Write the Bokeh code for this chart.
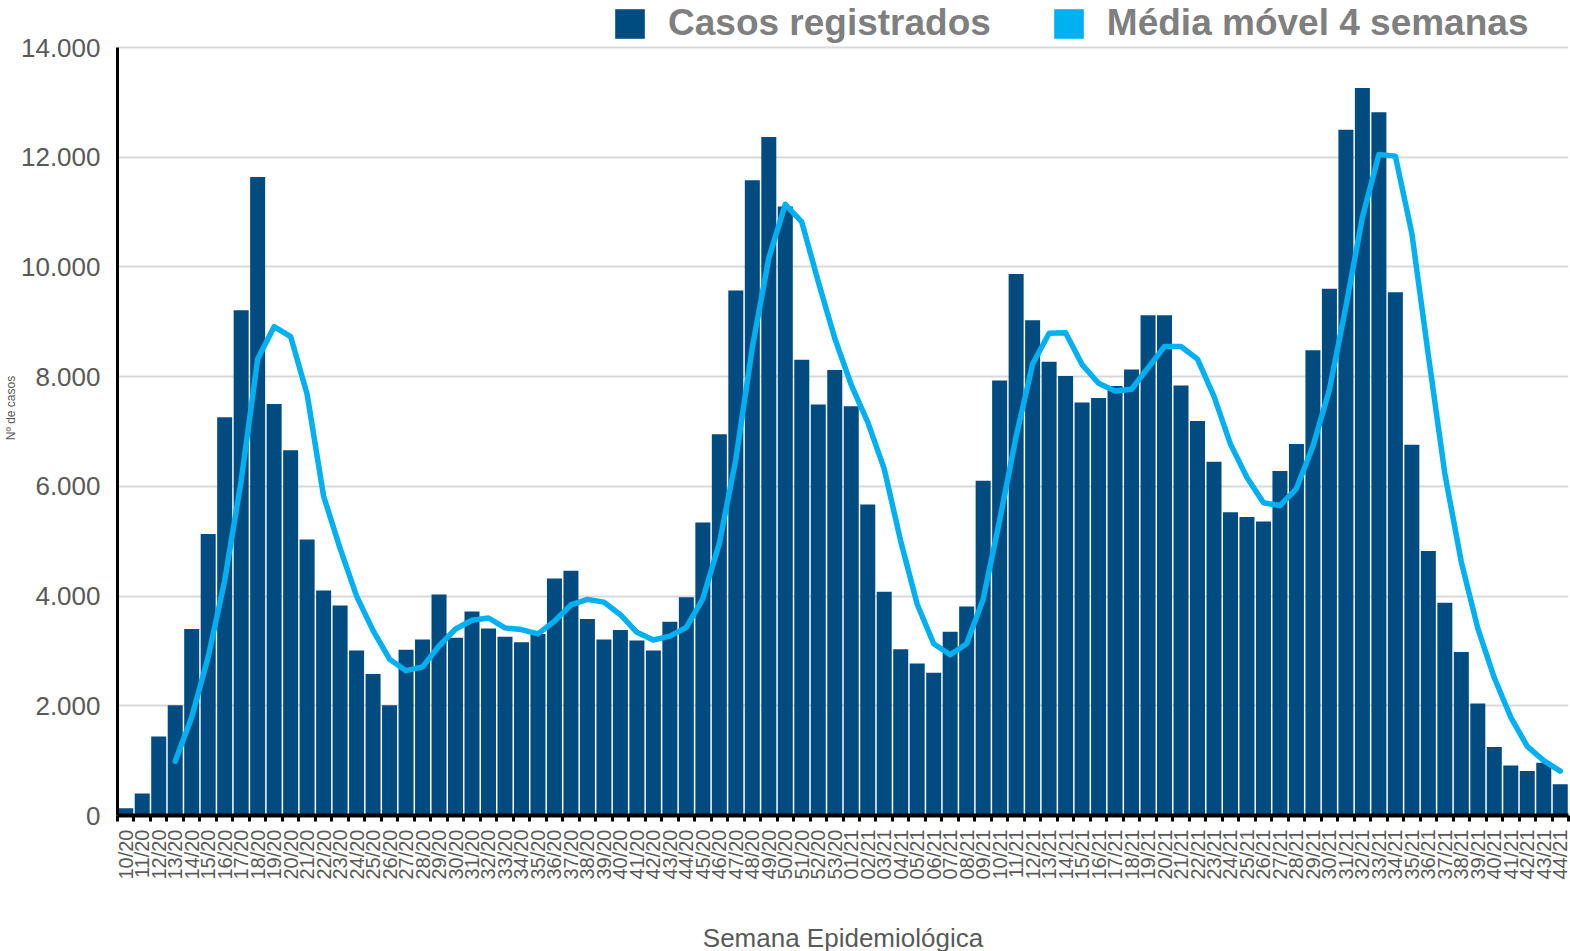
import numpy as np
from bokeh.plotting import figure
from bokeh.models import Range1d, FixedTicker, Legend, LegendItem
from bokeh.embed import file_html
from bokeh.resources import INLINE

weeks = [f"{w:02d}/20" for w in range(10, 54)] + [f"{w:02d}/21" for w in range(1, 45)]

cases = [
    130, 400, 1440, 2010, 3400, 5130, 7260, 9210, 11640, 7500,
    6660, 5030, 4100, 3830, 3010, 2580, 2010, 3020, 3210, 4030,
    3240, 3720, 3410, 3260, 3160, 3310, 4320, 4460, 3580, 3210,
    3380, 3190, 3010, 3530, 3980, 5340, 6950, 9570, 11580, 12370,
    11100, 8310, 7490, 8120,
    7460, 5670, 4080, 3030, 2770, 2600, 3350, 3810, 6100, 7930,
    9870, 9030, 8270, 8010, 7530, 7610, 7830, 8130, 9120, 9120,
    7840, 7190, 6450, 5530, 5440, 5360, 6280, 6770, 8480, 9600,
    12500, 13260, 12820, 9540, 6760, 4820, 3880, 2980, 2040, 1250,
    910, 810, 960, 570,
]

# 4-week moving average, starting at 13/20
moving_avg = [
    990, 1790, 2890, 4280, 6100, 8320, 8910, 8730, 7680, 5820,
    4870, 4000, 3370, 2850, 2640, 2710, 3090, 3400, 3560, 3600,
    3420, 3390, 3310, 3540, 3840, 3940, 3890, 3660, 3340, 3200,
    3270, 3430, 3950, 4960, 6490, 8530, 10160, 11140, 10820, 9730,
    8700,
    7850, 7170, 6320, 5000, 3850, 3130, 2930, 3130, 3940, 5380,
    6910, 8230, 8790, 8800, 8220, 7880, 7740, 7770, 8160, 8550,
    8550, 8320, 7640, 6770, 6160, 5700, 5650, 5960, 6730, 7760,
    9280, 10900, 12050, 12020, 10610, 8390, 6230, 4620, 3410, 2510,
    1790, 1260, 1000, 810,
]
ma_start = len(weeks) - len(moving_avg)

y_ticks = list(range(0, 14001, 2000))
y_max = 14000

n = len(weeks)
xc = [i + 0.5 for i in range(n)]

FW = 1451          # plot area width
FH_DATA = 768      # height of the 0..14000 span
TOP_PAD = 47       # space above 14000 (legend lives here)
FH = FH_DATA + TOP_PAD

p = figure(frame_width=FW, frame_height=FH, output_backend="svg", toolbar_location=None,
           x_range=Range1d(0, n), y_range=Range1d(0, y_max * FH / FH_DATA),
           min_border_left=117, min_border_right=2, min_border_top=0, min_border_bottom=0)
p.outline_line_color = None
p.background_fill_color = "white"

bars = p.vbar(x=xc, top=cases, width=0.91, fill_color="#004B80", line_color=None)
p.line(x=xc[ma_start:], y=moving_avg, line_color="#00B0F0", line_width=5.5,
       line_join="round", line_cap="round")
# legend-only swatch for the moving average (placed outside the visible range)
swatch = p.vbar(x=[-5], top=[1], width=0.9, fill_color="#00B0F0", line_color=None)

# Y axis
yax = p.yaxis[0]
yax.bounds = (0, y_max)
yax.ticker = FixedTicker(ticks=y_ticks)
yax.major_label_overrides = {t: f"{t:,}".replace(",", ".") for t in y_ticks}
yax.major_label_text_font = "Liberation Sans"
yax.major_label_text_font_size = "26px"
yax.major_label_text_color = "#595959"
yax.major_tick_line_color = None
yax.major_tick_out = 0
yax.major_tick_in = 0
yax.minor_tick_line_color = None
yax.major_label_standoff = 17
yax.axis_line_color = "black"
yax.axis_line_width = 3
yax.axis_label = "Nº de casos"
yax.axis_label_text_font = "Liberation Sans"
yax.axis_label_text_font_size = "12px"
yax.axis_label_text_font_style = "normal"
yax.axis_label_text_color = "#595959"
yax.axis_label_standoff = 0

# X axis
xax = p.xaxis[0]
xax.ticker = FixedTicker(ticks=xc, minor_ticks=list(range(0, n + 1)))
xax.major_label_overrides = {x: w for x, w in zip(xc, weeks)}
xax.major_label_orientation = np.pi / 2
xax.major_label_text_font = "Liberation Sans"
xax.major_label_text_font_size = "20px"
xax.major_label_text_color = "#595959"
xax.major_tick_line_color = None
xax.major_tick_out = 6
xax.major_tick_in = 0
xax.minor_tick_line_color = "black"
xax.minor_tick_line_width = 3
xax.minor_tick_out = 6
xax.minor_tick_in = 0
xax.major_label_standoff = 8
xax.axis_line_color = "black"
xax.axis_line_width = 4
xax.axis_label = "Semana Epidemiológica"
xax.axis_label_text_font = "Liberation Sans"
xax.axis_label_text_font_size = "26px"
xax.axis_label_text_font_style = "normal"
xax.axis_label_text_color = "#595959"
xax.axis_label_standoff = 40

p.xgrid.visible = False
p.ygrid.grid_line_color = "#d9d9d9"
p.ygrid.grid_line_width = 2

legend = Legend(items=[LegendItem(label="Casos registrados", renderers=[bars]),
                       LegendItem(label="Média móvel 4 semanas", renderers=[swatch])],
                orientation="horizontal", location=(494, FH - 44),
                label_text_font="Liberation Sans", label_text_font_style="bold",
                label_text_font_size="37px", label_text_color="#7f7f7f",
                glyph_width=37, glyph_height=37, label_standoff=20, spacing=59,
                padding=0, margin=0, border_line_color=None, background_fill_alpha=0)
p.add_layout(legend, "center")

open("out.html", "w").write(file_html(p, INLINE))
